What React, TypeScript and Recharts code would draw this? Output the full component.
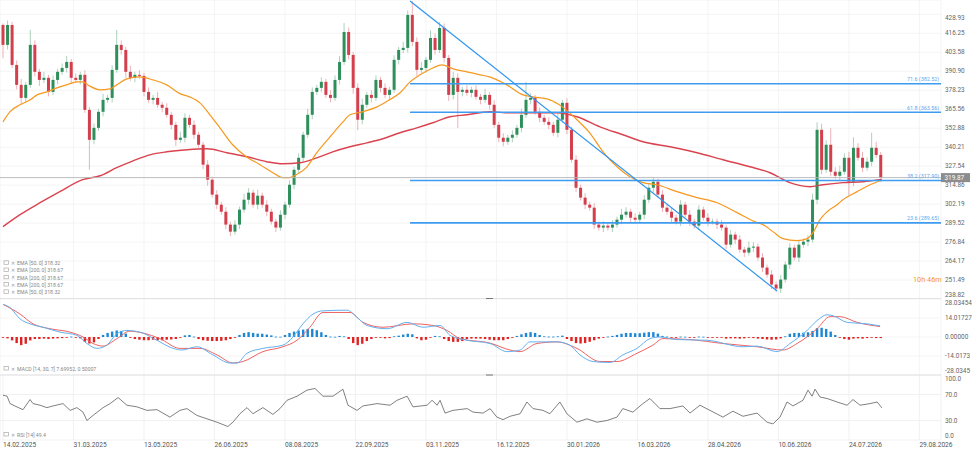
import React from "react";
import {
  ComposedChart,
  Bar,
  Line,
  XAxis,
  YAxis,
  CartesianGrid,
  ReferenceLine,
} from "recharts";

const GREEN = "#2f8f5b";
const RED = "#d43f4d";
const ORANGE = "#f7981f";
const EMA_RED = "#d9434f";
const FIB = "#3d9bf0";
const FONT = "Roboto, 'Liberation Sans', sans-serif";

// x is a bar index (one trading day per step), 14.02.2025 = 0
const dateTicks = [0, 31, 62, 93, 124, 155, 186, 217, 248, 279, 310, 341, 372, 403];
const dateLabels = [
  "14.02.2025", "31.03.2025", "13.05.2025", "26.06.2025", "08.08.2025", "22.09.2025", "03.11.2025",
  "16.12.2025", "30.01.2026", "16.03.2026", "28.04.2026", "10.06.2026", "24.07.2026", "29.08.2026",
];

const priceTicks = [428.93, 416.25, 403.58, 390.9, 378.23, 365.56, 352.88, 340.21, 327.54, 314.86, 302.19, 289.52, 276.84, 264.17, 251.49, 238.82];
const macdTicks = [28.03454, 14.01727, 0, -14.0173, -28.0345];
const macdTickLabels = ["28.03454", "14.01727", "0.00000", "-14.0173", "-28.0345"];
const rsiTicks = [100, 70, 30, 0];

// candles, one every two sessions
const FIRST_OPEN = 421.8;
const closes = [
  408.5, 421.8, 395.1, 381.8, 373.1, 381.8, 408.5, 390.5, 385.1, 386.5,
  377.1, 385.1, 390.5, 393.1, 397.1, 386.5, 385.1, 388.5, 365.1, 345.1,
  353.1, 363.8, 371.8, 373.1, 391.8, 408.5, 405.1, 390.5, 386.5, 388.5,
  387.8, 377.1, 371.8, 373.1, 368.5, 366.5, 361.8, 355.1, 345.1, 346.5,
  359.8, 355.1, 348.5, 341.8, 328.5, 318.5, 308.5, 301.8, 297.1, 288.5,
  283.8, 288.5, 298.5, 305.1, 309.8, 301.8, 307.8, 301.8, 297.1, 290.5,
  286.5, 295.1, 301.8, 315.1, 325.1, 333.1, 348.5, 361.8, 377.1, 379.8,
  383.8, 375.1, 373.1, 385.1, 397.1, 417.1, 401.8, 379.8, 358.5, 368.5,
  375.1, 373.1, 385.1, 379.8, 375.1, 378.5, 398.5, 405.1, 406.5, 428.5,
  410.5, 391.8, 393.1, 398.5, 413.1, 405.1, 419.8, 399.8, 375.1, 386.5,
  377.1, 378.5, 376.5, 378.5, 373.8, 371.8, 375.1, 368.5, 355.1, 346.5,
  343.8, 346.5, 348.5, 353.1, 361.8, 371.8, 373.1, 363.8, 359.8, 357.1,
  355.1, 349.8, 358.5, 369.8, 351.8, 331.8, 313.1, 306.5, 301.8, 299.8,
  288.5, 286.5, 287.8, 286.5, 288.5, 291.8, 295.1, 297.1, 293.1, 291.8,
  295.1, 305.1, 313.1, 317.1, 308.5, 299.8, 297.1, 293.1, 290.5, 301.8,
  295.1, 290.5, 287.8, 298.5, 293.1, 290.5, 290.5, 288.5, 286.5, 275.1,
  281.8, 278.5, 271.8, 269.8, 273.1, 273.8, 266.5, 259.8, 255.1, 248.5,
  245.8, 251.8, 261.8, 273.1, 266.5, 275.1, 277.1, 278.5, 305.1, 351.8,
  325.1, 341.8, 323.8, 321.1, 323.8, 333.1, 317.1, 339.8, 333.1, 326.5,
  330.5, 339.8, 335.0, 319.9,
];
const upperWicks = [
  1, 3, 2, 3, 4, 2, 10, 3, 2, 4,
  2, 3, 2, 3, 4, 2, 3, 2, 3, 2,
  3, 2, 4, 2, 3, 10, 3, 2, 4, 2,
  3, 2, 3, 2, 4, 2, 3, 2, 2, 4,
  3, 2, 3, 2, 2, 3, 2, 3, 2, 3,
  2, 3, 2, 4, 3, 2, 4, 2, 3, 2,
  2, 3, 2, 3, 2, 3, 2, 4, 3, 2,
  3, 2, 3, 3, 4, 6, 3, 2, 3, 4,
  2, 3, 3, 2, 3, 2, 3, 2, 4, 3,
  9.3, 3, 4, 2, 5, 3, 4, 3, 2, 4,
  3, 2, 3, 2, 3, 2, 4, 2, 3, 2,
  3, 2, 3, 2, 4, 12, 3, 2, 3, 2,
  3, 2, 4, 2, 3, 2, 3, 2, 3, 2,
  3, 2, 3, 2, 3, 2, 4, 3, 2, 3,
  2, 3, 3, 3, 2, 3, 2, 3, 2, 3,
  2, 3, 2, 3, 2, 3, 2, 2, 3, 2,
  3, 2, 3, 2, 4, 3, 2, 3, 2, 3,
  2, 3, 2, 3, 2, 3, 2, 3, 4, 5,
  4, 3, 11, 3, 4, 3, 4, 7, 3, 4,
  3, 10, 4, 2,
];
const lowerWicks = [
  9, 3, 2, 3, 4, 3, 2, 3, 4, 2,
  3, 2, 3, 2, 3, 4, 2, 3, 2, 20,
  3, 2, 3, 2, 3, 2, 3, 4, 2, 3,
  2, 3, 2, 3, 2, 3, 2, 3, 4, 2,
  3, 2, 3, 2, 3, 4, 2, 3, 2, 3,
  3, 2, 3, 2, 3, 2, 3, 2, 3, 2,
  3, 2, 3, 2, 3, 2, 3, 2, 3, 2,
  3, 2, 3, 2, 3, 2, 3, 4, 7, 3,
  2, 3, 2, 3, 2, 3, 2, 3, 2, 3,
  3, 4, 2, 3, 2, 3, 2, 3, 4, 3,
  24, 3, 2, 3, 2, 3, 2, 3, 2, 3,
  3, 2, 3, 2, 3, 2, 3, 2, 3, 2,
  3, 2, 3, 2, 3, 2, 3, 2, 3, 2,
  3, 2, 3, 2, 3, 2, 3, 2, 3, 2,
  2, 3, 2, 3, 2, 3, 2, 3, 2, 3,
  2, 3, 2, 3, 2, 3, 2, 3, 2, 3,
  2, 3, 2, 3, 2, 3, 2, 3, 2, 3,
  2, 3, 2, 3, 2, 3, 2, 3, 2, 3,
  3, 2, 3, 2, 3, 2, 9, 3, 2, 3,
  2, 3, 2, 3,
];

// [bar index, value]
const ema50Points = [
  [0, 357.1], [3, 363.8], [7.5, 368.5], [12, 371.8], [15, 375.1], [19.3, 377.1], [23.7, 379.8], [28, 381.8],
  [32.5, 383.8], [35, 383.8], [38, 381.1], [42.7, 378.5], [47, 379.1], [50, 381.8], [54.5, 385.8], [60, 387.1],
  [66, 385.1], [72, 381.8], [78, 375.8], [82, 373.8], [86.6, 369.8], [91, 361.8], [95.4, 353.1], [101, 341.8],
  [107, 333.8], [113, 328.5], [118.7, 323.1], [123, 319.8], [126, 319.8], [129, 321.8], [133.7, 327.1], [138, 336.5],
  [143.8, 347.1], [149.5, 357.1], [152.6, 361.8], [158, 363.8], [164.5, 367.1], [170, 371.8], [174.6, 376.5],
  [179, 383.8], [183.4, 388.5], [189, 393.1], [193, 395.1], [198, 392.5], [204, 390.5], [209.8, 388.5], [214, 387.1],
  [221.6, 381.8], [228.7, 375.1], [233, 373.8], [240.5, 371.8], [246, 367.1], [252.4, 358.5], [258, 349.8],
  [263.9, 337.1], [270, 327.1], [275.7, 320.5], [281.4, 316.5], [287.6, 315.1], [296.4, 310.5], [305.2, 306.5],
  [314, 303.1], [322.8, 296.5], [331.6, 289.8], [334.2, 288.5], [338.6, 283.8], [343, 279.1], [349.2, 277.8],
  [353.6, 279.1], [356.2, 283.1], [359.3, 291.8], [362.4, 297.1], [366.8, 301.8], [369.4, 305.1], [375.6, 310.5],
  [381.3, 315.1], [386.5, 318.3],
];
const ema200Points = [
  [0, 287.1], [7.5, 295.1], [16.3, 303.1], [25, 310.5], [35, 318.5], [42.7, 321.1], [50, 326.5], [57.2, 331.1],
  [64.6, 335.1], [72, 337.1], [81, 338.5], [89.7, 339.1], [98.5, 336.5], [107.3, 333.8], [116, 330.5], [123, 329.1],
  [130.6, 329.8], [138, 333.1], [145, 337.1], [152.6, 340.5], [160, 343.1], [167, 345.8], [174.6, 349.8], [182, 353.1],
  [189, 356.5], [196.6, 360.5], [204, 361.8], [214, 363.8], [223, 363.1], [231.7, 363.1], [243.6, 363.1],
  [252.4, 360.5], [262.5, 353.8], [272.6, 348.5], [281.4, 343.8], [293.3, 340.5], [305.2, 336.5], [316.6, 331.8],
  [328.5, 327.1], [337.3, 323.1], [346, 316.5], [354.9, 313.8], [360.6, 315.1], [369.4, 316.5], [378.2, 317.1],
  [386.5, 318.7],
];

const macdPoints = [
  [0, 24.1], [3.1, 21.7], [7.5, 13.3], [11.9, 9.7], [17.6, 7.2], [25.1, 3.6], [32.5, 1.2], [36.9, -4.8],
  [41.3, -8.4], [45.7, -6], [50.1, 2.5], [54.5, 4.8], [60.2, 3.6], [67.7, -2.4], [74.8, -8.4], [78.7, -9.6],
  [85.3, -7.2], [92.3, -13.2], [99.8, -19.2], [102.9, -19.2], [107.3, -12], [114.3, -8.4], [123.1, -6], [127.5, 0],
  [131.9, 9.7], [136.3, 16.9], [140.7, 19.3], [151.3, 19.8], [155.7, 14.5], [160.1, 8.5], [168.9, 6.1], [177.7, 10.8],
  [184.7, 7.2], [192.2, 8.5], [196.6, 1.2], [204, -2.4], [214.2, -4.8], [221.6, -10.8], [227.4, -9.6], [231.7, -3.6],
  [243.6, -3.6], [249.3, -6], [253.7, -13.2], [259.5, -18.1], [267, -18.8], [272.6, -13.2], [278.8, -8.4],
  [284.5, -1.2], [288.9, 0], [296.4, -1.9], [309.6, -2.4], [325.4, -7.2], [331.6, -6.7], [340.4, -10.8],
  [346.1, -4.8], [353.6, 4.8], [358, 12.1], [362.4, 16.4], [365, 15.7], [371.2, 10.8], [380, 9.7], [385.7, 8.2],
];
const signalPoints = [
  [0, 24.1], [7.5, 16.9], [13.2, 9.7], [20.7, 6.1], [29.5, 3.6], [35.2, 0], [39.6, -4.8], [44, -6.7],
  [50.1, -1.2], [55.8, 4.3], [61.6, 2.9], [69, -1.2], [77.8, -8.4], [86.6, -8.4], [94.1, -13.2], [101.1, -19.2],
  [105.5, -18.1], [114.3, -10.8], [123.1, -7.2], [129.3, -2.4], [135, 7.2], [140.7, 18.1], [152.6, 18.1],
  [158.3, 10.8], [167.1, 7.2], [180.3, 9.7], [189.1, 8.5], [195.3, 4.8], [201, -1.2], [214.2, -4.5], [223, -9.6],
  [227.4, -10.8], [234.8, -4.8], [243.6, -3.6], [252.4, -8.4], [262.5, -18.1], [270, -18.1], [278.8, -12],
  [285.8, -6], [290.2, -1.2], [302.1, -1.9], [316.6, -4.8], [331.6, -7.2], [343, -9.6], [349.2, -4.8], [358, 6.1],
  [363.7, 15], [368.1, 15], [375.6, 10.8], [385.7, 7.7],
];
const histogram = [
  -0.5, -1, -2.5, -4.5, -6, -5, -2.5, -1.5, -1.5, -1.2,
  -1.5, -1.2, -1, -0.8, -0.5, 0.3, -0.3, -1, -3.5, -4.8,
  -4, -1.5, 1.5, 3, 4, 4.8, 4.5, 2.5, -0.5, -1.5,
  -2, -2.4, -2.4, -2, -2.4, -2.4, -2, -1.8, -1.5, -0.5,
  1.2, 1.5, 0.3, -1.5, -2.4, -2.8, -3, -3, -2.8, -2.4,
  -1.5, -0.3, 1.5, 3, 3.6, 3, 2.5, 2.4, 1.8, 1.2,
  0.3, 0.2, 1.5, 3, 4, 4.8, 5.5, 6, 6, 5,
  3.5, 1.5, 0.3, 0.2, 0.8, 0.5, -1.5, -4.5, -6, -5,
  -3, -1.5, -0.5, -0.3, -1, -0.8, 0.5, 1, 1.8, 2.4,
  2, -1, -2.4, -2, -0.5, 0.8, 0.5, -1.5, -3, -3.6,
  -3.6, -3, -1.5, -1.2, -1.2, -1.2, -1.5, -2, -2.4, -2.4,
  -2.4, -1.5, -0.5, 0.8, 2, 3, 3.6, 3, 1.5, 0.5,
  0.3, 0.3, 0.5, 1, -1.5, -3, -4.5, -4.8, -4.5, -3.5,
  -2.4, -1.2, -0.3, 0.3, 0.8, 1.5, 2.4, 3, 3, 2.8,
  2.8, 3.2, 3.6, 3.6, 2.5, 0.8, 0.3, -0.3, -0.3, 0.3,
  0.2, -0.3, -0.3, 0.3, 0.2, -0.3, -0.3, -0.5, -0.5, -1.2,
  -1, -1, -1.2, -1, -0.5, -0.8, -1.2, -1.5, -1.8, -2,
  -1.8, -1, 0.5, 2.4, 3, 3, 3.2, 3.5, 4.5, 6.5,
  6.8, 6, 4, 1.5, -0.5, -1.5, -2, -1.2, -1, -1.2,
  -0.8, -0.5, -0.8, -0.8,
];

const rsiPoints = [
  [0, 68.9], [1.8, 67.4], [3.1, 56], [6.2, 50.7], [8.8, 46.7], [11.9, 62.2], [13.2, 56], [16.3, 53.5],
  [19.3, 49.8], [22, 52.4], [26.4, 56], [29.5, 45.6], [32.5, 49.8], [35.2, 42.9], [36.9, 30], [39.6, 37.8],
  [44, 49.8], [47.1, 56], [50.6, 65.3], [54.5, 53.5], [58.9, 51], [63.3, 45.6], [67.7, 46.7], [73.4, 35.2],
  [77.8, 45.6], [80.9, 48.3], [85.3, 37.8], [89.7, 32.6], [94.1, 27.4], [98.9, 20.7], [101.1, 27.4], [104.2, 40.4],
  [107.3, 49.8], [109.9, 40.4], [114.3, 49.8], [118.7, 39.4], [121.8, 48.3], [124.9, 61.1], [129.3, 67.4],
  [133.7, 76.7], [137.2, 79.3], [140.7, 67.4], [145.1, 67.4], [149.5, 78.1], [151.7, 53.5], [155.7, 45.6],
  [158.3, 52.4], [164.5, 56], [170.2, 53.5], [173.3, 61.1], [177.7, 67.4], [180.3, 51], [186.5, 53.5],
  [188.7, 61.1], [190.9, 53.5], [192.2, 61.1], [194.4, 41.4], [197.9, 45.6], [204.1, 48.3], [206.7, 42.9],
  [211.1, 41.4], [214.2, 48.3], [217.2, 35.2], [219.9, 31.3], [223, 36.5], [227.4, 40.4], [230.4, 58.5],
  [233.1, 48.3], [237.5, 45.6], [240.5, 40.4], [244.9, 58.5], [248, 40.4], [252.4, 27.4], [256.8, 32.6],
  [261.2, 27.4], [265.6, 30], [270, 35.2], [272.6, 48.3], [277, 42.9], [281.4, 56], [284.5, 63.8], [288.9, 48.3],
  [293.3, 48.3], [299, 52.4], [302.1, 41.4], [306.5, 53.5], [310.9, 45.6], [316.6, 35.2], [321, 44.3],
  [325.4, 36.5], [331.6, 41.4], [336, 27.4], [338.6, 24.8], [341.7, 35.2], [344.8, 58.5], [347.4, 52.4],
  [351.8, 61.1], [354, 76.7], [355.8, 67.4], [357.1, 78.2], [359.3, 66.1], [362.4, 63.8], [366.8, 58.5],
  [371.2, 53.5], [373.8, 62.2], [376.9, 53.5], [381.3, 56], [384.4, 58.5], [386.5, 49.4],
];

// drawing tools
const fibLevels = [
  { ratio: "71.6", value: 382.52 },
  { ratio: "61.8", value: 363.56 },
  { ratio: "38.2", value: 317.9 },
  { ratio: "23.6", value: 289.65 },
];
const FIB_START = 179;
const trendLine = [
  { x: 179, y: 437.8 },
  { x: 340.4, y: 244.1 },
];
const LAST_PRICE = 319.87;

const legendRows = [
  "EMA [50, 0] 318.32",
  "EMA [200, 0] 318.67",
  "EMA [200, 0] 318.67",
  "EMA [200, 0] 318.67",
  "EMA [50, 0] 318.32",
];

const X_DOMAIN: [number, number] = [-1.32, 412.5];
const W = 977;
const AXIS_W = 36;

// merge several series into one table keyed by bar index
function mergeRows(base: any[], series: Record<string, number[][]>) {
  const map = new Map<number, any>();
  base.forEach((r) => map.set(r.i, { ...r }));
  Object.entries(series).forEach(([key, pts]) => {
    pts.forEach(([i, v]) => {
      const row = map.get(i) || { i };
      row[key] = v;
      map.set(i, row);
    });
  });
  return Array.from(map.values()).sort((a, b) => a.i - b.i);
}

const candles = closes.map((c, k) => {
  const o = k === 0 ? FIRST_OPEN : closes[k - 1];
  return {
    i: k * 2,
    open: o,
    close: c,
    high: Math.max(o, c) + upperWicks[k],
    low: Math.min(o, c) - lowerWicks[k],
  };
});
const mainRows = mergeRows(candles, { ema50: ema50Points, ema200: ema200Points });
const macdRows = mergeRows(
  histogram.map((h, k) => ({ i: k * 2, h })),
  { macd: macdPoints, signal: signalPoints }
);
const rsiRows = mergeRows([], { rsi: rsiPoints });

const Candle = (props: any) => {
  const { x, y, width, height, payload } = props;
  if (!payload || payload.open === undefined) return null;
  const { open, close, high, low } = payload;
  const top = Math.min(y, y + height);
  const h = Math.abs(height);
  const per = high === low ? 0 : h / (high - low);
  const yOf = (v: number) => top + (high - v) * per;
  const color = close >= open ? GREEN : RED;
  const cx = x + width / 2;
  const bw = 3;
  const bTop = yOf(Math.max(open, close));
  const bBot = yOf(Math.min(open, close));
  return (
    <g>
      <line x1={cx} x2={cx} y1={top} y2={top + h} stroke={color} strokeOpacity={0.4} strokeWidth={1} />
      <rect x={cx - bw / 2} y={bTop} width={bw} height={Math.max(1, bBot - bTop)} fill={color} />
    </g>
  );
};

const HistBar = (props: any) => {
  const { x, y, width, height, payload } = props;
  if (!payload || payload.h === undefined) return null;
  const top = Math.min(y, y + height);
  const h = Math.max(0.8, Math.abs(height));
  const cx = x + width / 2;
  const bw = 2.4;
  return <rect x={cx - bw / 2} y={top} width={bw} height={h} fill={payload.h >= 0 ? "#1f88d4" : "#df2222"} />;
};

const makeYTick = (fmt: (v: number) => string, topV: number, botV: number) => (props: any) => {
  const { x, y, payload } = props;
  const v = payload.value;
  let dy = 2.2;
  if (v === topV) dy += 4;
  if (v === botV) dy -= 4;
  return (
    <text x={x} y={y + dy} fontSize={6.4} fill="#666" fontFamily={FONT} textAnchor="start">
      {fmt(v)}
    </text>
  );
};

const DateTick = (props: any) => {
  const { x, y, payload } = props;
  const idx = dateTicks.indexOf(payload.value);
  return (
    <text x={x} y={y + 6.6} fontSize={6.6} fill="#555" fontFamily={FONT} textAnchor="start">
      {dateLabels[idx]}
    </text>
  );
};

const FibLabel = (props: any) => {
  const { viewBox, text, id } = props;
  if (!viewBox) return null;
  const right = viewBox.x + viewBox.width;
  return (
    <g>
      <defs>
        <clipPath id={id}>
          <rect x={0} y={0} width={right} height={299} />
        </clipPath>
      </defs>
      <text x={right - 34} y={viewBox.y - 2.5} fontSize={5.4} fill="#5aa9ef" fontFamily={FONT} clipPath={`url(#${id})`}>
        {text}
      </text>
    </g>
  );
};

const PriceTag = (props: any) => {
  const { viewBox } = props;
  if (!viewBox) return null;
  const right = viewBox.x + viewBox.width;
  return (
    <g>
      <rect x={right} y={viewBox.y - 4.5} width={29} height={9} fill="#8c8c8c" />
      <text x={right + 3.5} y={viewBox.y + 2.3} fontSize={6.4} fill="#fff" fontFamily={FONT}>
        {LAST_PRICE.toFixed(2)}
      </text>
    </g>
  );
};

const LegendIcon = ({ y }: { y: number }) => (
  <g>
    <rect x={4} y={y - 2.5} width={4.5} height={3.5} fill="none" stroke="#aaa" strokeWidth={0.7} />
    <text x={11} y={y + 1.5} fontSize={5} fill="#999" fontFamily={FONT}>
      ✕
    </text>
  </g>
);

export default function App() {
  return (
    <div style={{ position: "absolute", left: 0, top: 0, width: W, height: 451, background: "#fff", fontFamily: FONT }}>
      <ComposedChart width={W} height={299} data={mainRows} margin={{ top: 0, right: 0, left: 0, bottom: 0 }}>
        <CartesianGrid stroke="#f1f1f1" strokeWidth={0.8} />
        <XAxis type="number" dataKey="i" domain={X_DOMAIN} allowDataOverflow ticks={dateTicks} hide />
        <YAxis
          orientation="right"
          width={AXIS_W}
          domain={[238.82, 438.46]}
          allowDataOverflow
          ticks={priceTicks}
          interval={0}
          tickLine={false}
          axisLine={false}
          tickSize={4}
          tickMargin={0}
          tick={makeYTick((v) => v.toFixed(2), 428.93, 238.82)}
        />
        <Bar
          dataKey={(d: any) => (d.open === undefined ? undefined : [d.low, d.high])}
          shape={<Candle />}
          isAnimationActive={false}
        />
        <Line dataKey="ema200" type="monotone" stroke={EMA_RED} strokeWidth={1.4} dot={false} activeDot={false} connectNulls isAnimationActive={false} />
        <Line dataKey="ema50" type="monotone" stroke={ORANGE} strokeWidth={1.2} dot={false} activeDot={false} connectNulls isAnimationActive={false} />
        <ReferenceLine y={LAST_PRICE} stroke="#b4b4b4" strokeWidth={0.9} label={<PriceTag />} />
        {fibLevels.map((f, n) => (
          <ReferenceLine
            key={f.ratio}
            segment={[
              { x: FIB_START, y: f.value },
              { x: X_DOMAIN[1], y: f.value },
            ]}
            stroke={FIB}
            strokeWidth={1.6}
            label={<FibLabel id={`fibclip${n}`} text={`${f.ratio} (${f.value.toFixed(2)})`} />}
          />
        ))}
        <ReferenceLine segment={trendLine} stroke="#2f95f0" strokeWidth={1.2} />
      </ComposedChart>

      <ComposedChart width={W} height={76} data={macdRows} margin={{ top: 0, right: 0, left: 0, bottom: 0 }}>
        <CartesianGrid stroke="#f3f3f3" strokeWidth={0.8} />
        <XAxis type="number" dataKey="i" domain={X_DOMAIN} allowDataOverflow ticks={dateTicks} hide />
        <YAxis
          orientation="right"
          width={AXIS_W}
          domain={[-28.03454, 28.03454]}
          allowDataOverflow
          ticks={macdTicks}
          interval={0}
          tickLine={false}
          axisLine={false}
          tickSize={4}
          tickMargin={0}
          tick={makeYTick((v) => macdTickLabels[macdTicks.indexOf(v)], 28.03454, -28.0345)}
        />
        <Bar dataKey="h" shape={<HistBar />} isAnimationActive={false} />
        <Line dataKey="signal" type="monotone" stroke="#ef6262" strokeWidth={1} dot={false} activeDot={false} connectNulls isAnimationActive={false} />
        <Line dataKey="macd" type="monotone" stroke="#63b1f1" strokeWidth={1} dot={false} activeDot={false} connectNulls isAnimationActive={false} />
      </ComposedChart>

      <ComposedChart width={W} height={76} data={rsiRows} margin={{ top: 0, right: 0, left: 0, bottom: 0 }}>
        <CartesianGrid stroke="#eeeeee" strokeWidth={0.8} />
        <XAxis
          type="number"
          dataKey="i"
          domain={X_DOMAIN}
          allowDataOverflow
          ticks={dateTicks}
          interval={0}
          height={11}
          tickLine={false}
          axisLine={false}
          tickSize={0}
          tickMargin={0}
          tick={<DateTick />}
        />
        <YAxis
          orientation="right"
          width={AXIS_W}
          domain={[0, 100]}
          allowDataOverflow
          ticks={rsiTicks}
          interval={0}
          tickLine={false}
          axisLine={false}
          tickSize={4}
          tickMargin={0}
          tick={makeYTick((v) => v.toFixed(1), 100, 0)}
        />
        <Line dataKey="rsi" type="linear" stroke="#555" strokeWidth={0.75} dot={false} activeDot={false} isAnimationActive={false} />
      </ComposedChart>

      <svg width={W} height={451} style={{ position: "absolute", left: 0, top: 0, pointerEvents: "none" }}>
        <line x1={0} x2={941} y1={298.5} y2={298.5} stroke="#e2e2e2" strokeWidth={1} />
        <line x1={0} x2={941} y1={375} y2={375} stroke="#e2e2e2" strokeWidth={1} />
        <line x1={486} x2={493} y1={298.5} y2={298.5} stroke="#777" strokeWidth={1} />
        <line x1={486} x2={493} y1={375} y2={375} stroke="#777" strokeWidth={1} />
        {legendRows.map((t, n) => {
          const y = 263.3 + n * 7.25;
          return (
            <g key={n}>
              <LegendIcon y={y} />
              <text x={17} y={y + 1.8} fontSize={5.2} fill="#888" fontFamily={FONT}>
                {t}
              </text>
            </g>
          );
        })}
        <LegendIcon y={369} />
        <text x={17} y={370.8} fontSize={5.2} fill="#888" fontFamily={FONT}>
          MACD [14, 30, 7] 7.69952, 0.50007
        </text>
        <LegendIcon y={435} />
        <text x={17} y={436.8} fontSize={5.2} fill="#888" fontFamily={FONT}>
          RSI [14] 49.4
        </text>
        <text x={913} y={282} fontSize={7.3} fill={ORANGE} fontFamily={FONT}>
          10h 46m
        </text>
      </svg>
    </div>
  );
}
